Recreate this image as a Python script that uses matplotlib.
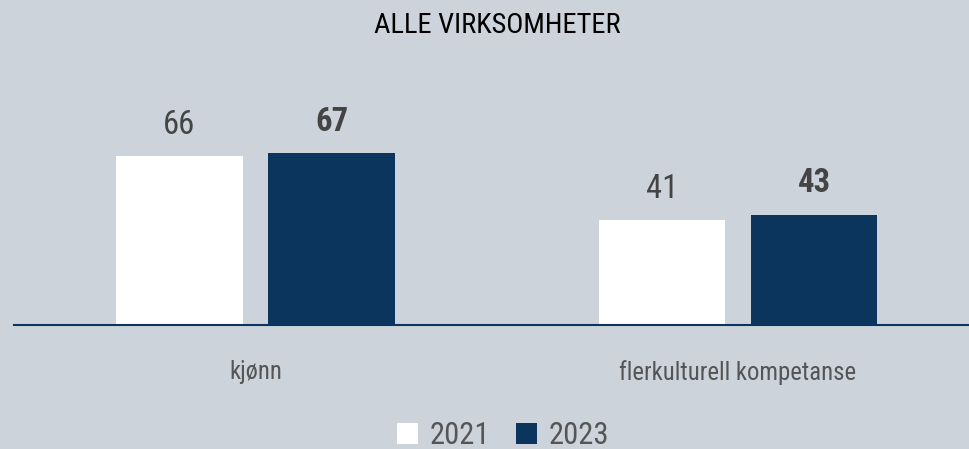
import matplotlib.pyplot as plt
from matplotlib.patches import Patch

# data
categories = ['kjønn', 'flerkulturell kompetanse']
years = ['2021', '2023']
values_2021 = [66, 41]
values_2023 = [67, 43]

bg = '#cdd3db'
navy = '#0b355c'
plt.rcParams['font.family'] = ['Roboto Condensed', 'Liberation Sans Narrow', 'DejaVu Sans']

fig = plt.figure(figsize=(9.69, 4.49), dpi=100, facecolor=bg)
ax = fig.add_axes([14 / 969, 124 / 449, 955 / 969, 205 / 449])
ax.set_facecolor(bg)

x = range(len(categories))
w = 0.263
off = 0.1575
b1 = ax.bar([i - off for i in x], values_2021, w, color='white')
b2 = ax.bar([i + off for i in x], values_2023, w, color=navy)

for bar, v in zip(b1, values_2021):
    ax.text(bar.get_x() + bar.get_width() / 2, v + 6, str(v), ha='center', va='bottom',
            fontsize=23.5, color='#444444')
for bar, v in zip(b2, values_2023):
    ax.text(bar.get_x() + bar.get_width() / 2, v + 6, str(v), ha='center', va='bottom',
            fontsize=23.5, color='#444444', fontweight='bold')

ax.set_xlim(-0.5005, 1.4788)
ax.set_ylim(0, 80)
for s in ['top', 'right', 'left']:
    ax.spines[s].set_visible(False)
ax.spines['bottom'].set_color(navy)
ax.spines['bottom'].set_linewidth(1.5)
ax.set_yticks([])
ax.set_xticks(list(x))
ax.set_xticklabels(categories, fontsize=17.8, color='#555555')
ax.tick_params(axis='x', length=0, pad=25)

fig.text(0.513, 0.943, 'ALLE VIRKSOMHETER', ha='center', va='center', fontsize=20.5, color='black')

handles = [Patch(facecolor='white'), Patch(facecolor=navy)]
fig.legend(handles, years, loc='center', bbox_to_anchor=(0.519, 0.029), ncol=2, frameon=False,
           fontsize=22, labelcolor='#555555', handlelength=0.69, handleheight=0.69,
           handletextpad=0.38, columnspacing=0.85)

fig.savefig('out.png', dpi=100, facecolor=bg)
